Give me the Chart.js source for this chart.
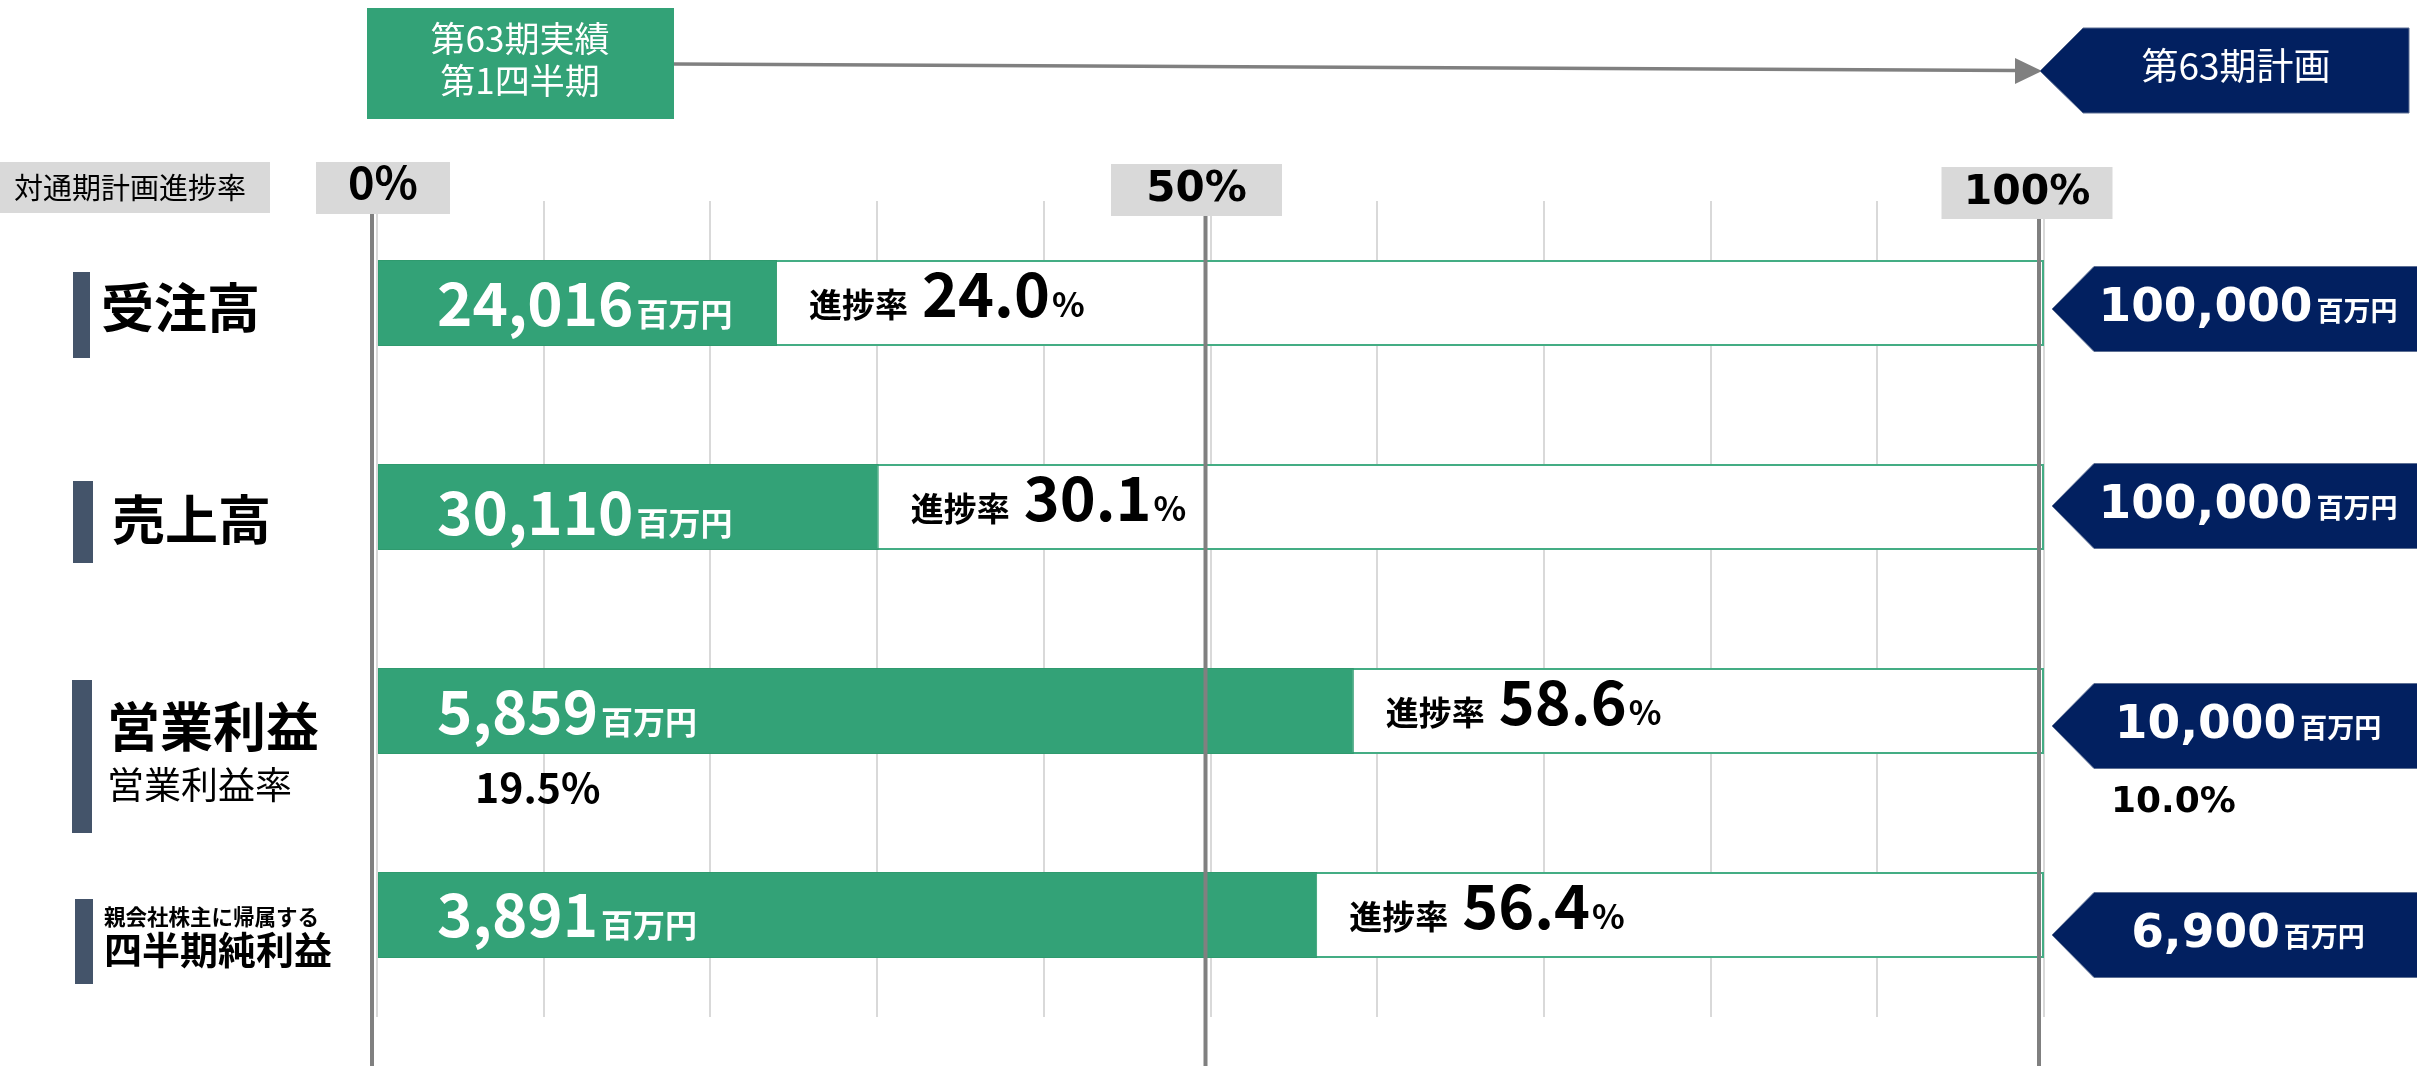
<!DOCTYPE html>
<html><head><meta charset="utf-8">
<script src="https://cdn.jsdelivr.net/npm/chart.js@4.4.0/dist/chart.umd.min.js"></script>
<style>html,body{margin:0;padding:0;background:#fff;overflow:hidden}</style>
</head><body>
<canvas id="c" width="2417" height="1066"></canvas>
<script>
// ---- data ----
const categories = ['受注高', '売上高', '営業利益', '四半期純利益'];
const actualValues = [24016, 30110, 5859, 3891];       // 第63期実績 第1四半期 (百万円)
const planValues = [100000, 100000, 10000, 6900];      // 第63期計画 (百万円)
const progressRates = [24.0, 30.1, 58.6, 56.4];        // 進捗率 (%)
const planRates = [100, 100, 100, 100];                // 通期計画 = 100%
const opMarginActual = 19.5;                           // 営業利益率 実績 (%)
const opMarginPlan = 10.0;                             // 営業利益率 計画 (%)
const tickValues = [0, 50, 100];
const tickLabels = ['0%', '50%', '100%'];
const headerActual = ['第63期実績', '第1四半期'];
const headerPlan = '第63期計画';
const axisTitle = '対通期計画進捗率';
const unitLabel = '百万円';
const progressLabel = '進捗率';

// ---- styles ----
const GREEN = '#33a277', GREEN_EDGE = '#44ad84', NAVY = '#022060', SLATE = '#44546a';
const GRAY = '#808080', LGRAY = '#d9d9d9';
const JP = '"Noto Sans CJK JP", "Noto Sans CJK SC", sans-serif';
const DV = '"DejaVu Sans", Verdana, sans-serif';

function put(ctx, s, x, y, font, color, align, base) {
  ctx.font = font; ctx.fillStyle = color;
  ctx.textAlign = align || 'left'; ctx.textBaseline = base || 'alphabetic';
  ctx.fillText(s, x, y);
  return ctx.measureText(s).width;
}
function w(ctx, s, font) { ctx.font = font; return ctx.measureText(s).width; }
const fmt = v => v.toLocaleString('en-US');

const overlay = {
  id: 'overlay',
  afterDraw(chart) {
    const ctx = chart.ctx, xs = chart.scales.x, ys = chart.scales.y;
    ctx.save();
    const x0 = xs.getPixelForValue(0);
    const x100 = xs.getPixelForValue(100);

    // header: actual box
    ctx.fillStyle = GREEN; ctx.fillRect(367, 8, 307, 111);
    put(ctx, headerActual[0], 520, 39, '400 35px ' + JP, '#fff', 'center', 'middle');
    put(ctx, headerActual[1], 520, 81, '400 35px ' + JP, '#fff', 'center', 'middle');
    // arrow
    ctx.strokeStyle = GRAY; ctx.lineWidth = 3.5;
    ctx.beginPath(); ctx.moveTo(674, 64); ctx.lineTo(2018, 70.5); ctx.stroke();
    ctx.fillStyle = GRAY;
    ctx.beginPath(); ctx.moveTo(2042, 71); ctx.lineTo(2015, 58); ctx.lineTo(2015, 84); ctx.closePath(); ctx.fill();
    // header: plan (navy pentagon)
    ctx.fillStyle = NAVY;
    ctx.beginPath(); ctx.moveTo(2040, 71); ctx.lineTo(2083, 28); ctx.lineTo(2409, 28);
    ctx.lineTo(2409, 113); ctx.lineTo(2083, 113); ctx.closePath(); ctx.fill();
    ctx.strokeStyle = '#5d6f93'; ctx.lineWidth = 1; ctx.stroke();
    put(ctx, headerPlan, 2236, 66, '400 37px ' + JP, '#fff', 'center', 'middle');

    // axis title box
    ctx.fillStyle = LGRAY; ctx.fillRect(0, 162, 270, 51);
    put(ctx, axisTitle, 130, 188, '400 29px ' + JP, '#000', 'center', 'middle');

    // thick reference lines + tick boxes
    const boxDx = [6, -14, -17], boxW = [134, 171, 171], boxTop = [162, 164, 167];
    const boxFont = ['700 45px ' + JP, '700 42px ' + DV, '700 41px ' + DV];
    tickValues.forEach((v, i) => {
      const px = xs.getPixelForValue(v);
      ctx.strokeStyle = GRAY; ctx.lineWidth = 4;
      ctx.beginPath(); ctx.moveTo(px - 5, boxTop[i] + 51); ctx.lineTo(px - 5, 1066); ctx.stroke();
      const cx = px + boxDx[i];
      ctx.fillStyle = LGRAY; ctx.fillRect(cx - boxW[i] / 2, boxTop[i], boxW[i], 52);
      put(ctx, tickLabels[i], cx, boxTop[i] + 37, boxFont[i], '#000', 'center');
    });

    // left category labels
    const accent = [
      {x: 73, w: 17, t: -31, b: 55},
      {x: 73, w: 20, t: -26, b: 56},
      {x: 72, w: 20, t: -31, b: 122},
      {x: 75, w: 18, t: -16, b: 69}
    ];
    categories.forEach((c, i) => {
      const cy = ys.getPixelForValue(i);
      const a = accent[i];
      ctx.fillStyle = SLATE; ctx.fillRect(a.x, cy + a.t, a.w, a.b - a.t);
      if (i === 0) put(ctx, c, 101, cy + 5, '700 53px ' + JP, '#000', 'left', 'middle');
      if (i === 1) put(ctx, c, 112, cy + 13, '700 53px ' + JP, '#000', 'left', 'middle');
      if (i === 2) {
        put(ctx, c, 107, cy + 16, '700 53px ' + JP, '#000', 'left', 'middle');
        put(ctx, '営業利益率', 107, cy + 74, '400 37px ' + JP, '#000', 'left', 'middle');
      }
      if (i === 3) {
        put(ctx, '親会社株主に帰属する', 104, cy + 2, '700 21.5px ' + JP, '#000', 'left', 'middle');
        put(ctx, c, 104, cy + 35, '700 38px ' + JP, '#000', 'left', 'middle');
      }
    });

    // labels inside / beside the bars
    const numShift = [23, 28, 23, 22];
    const navyShift = [6, -1, 15, 20];
    categories.forEach((c, i) => {
      const cy = ys.getPixelForValue(i);
      // actual value in green bar
      const bigF = '700 60px ' + JP, unitF = '700 32px ' + JP;
      let x = x0 + 60;
      x += put(ctx, fmt(actualValues[i]), x, cy + numShift[i], bigF, '#fff');
      put(ctx, unitLabel, x + 3, cy + numShift[i], unitF, '#fff');
      // progress rate right of green bar
      let px = xs.getPixelForValue(progressRates[i]) + 32;
      px += put(ctx, progressLabel, px, cy + 14, '700 33px ' + JP, '#000');
      px += 14;
      px += put(ctx, progressRates[i].toFixed(1), px, cy + 14, '700 61px ' + JP, '#000');
      put(ctx, '%', px + 2, cy + 14, '700 34px ' + JP, '#000');
      // plan value in navy arrow
      const ny = cy + navyShift[i];
      ctx.fillStyle = NAVY;
      ctx.beginPath(); ctx.moveTo(x100 + 8, ny); ctx.lineTo(x100 + 50, ny - 42.5); ctx.lineTo(2420, ny - 42.5);
      ctx.lineTo(2420, ny + 42.5); ctx.lineTo(x100 + 50, ny + 42.5); ctx.closePath(); ctx.fill();
      ctx.strokeStyle = '#5d6f93'; ctx.lineWidth = 1; ctx.stroke();
      const dF = '700 47px ' + DV, uF = '700 27px ' + JP;
      const s = fmt(planValues[i]);
      const tw = w(ctx, s, dF) + 4 + w(ctx, unitLabel, uF);
      let tx = 2248 - tw / 2;
      tx += put(ctx, s, tx, ny + 12, dF, '#fff');
      put(ctx, unitLabel, tx + 4, ny + 12, uF, '#fff');
      if (i === 2) {
        put(ctx, opMarginActual.toFixed(1) + '%', x0 + 98, cy + 92, '700 41px ' + JP, '#000');
        put(ctx, opMarginPlan.toFixed(1) + '%', x100 + 67, cy + 101, '700 36px ' + DV, '#000');
      }
    });
    ctx.restore();
  }
};

new Chart(document.getElementById('c'), {
  type: 'bar',
  data: {
    labels: categories,
    datasets: [
      {label: '進捗率', data: progressRates, backgroundColor: GREEN, borderColor: '#2f9a6e',
       borderWidth: 1, borderSkipped: false, grouped: false, categoryPercentage: 1, barPercentage: 0.4216},
      {label: '通期計画', data: planRates, backgroundColor: '#fff', borderColor: GREEN_EDGE,
       borderWidth: 2, borderSkipped: false, grouped: false, categoryPercentage: 1, barPercentage: 0.4216}
    ]
  },
  options: {
    indexAxis: 'y', responsive: false, animation: false, devicePixelRatio: 1,
    layout: {padding: {left: 377, right: 373, top: 201, bottom: 49}},
    plugins: {legend: {display: false}, tooltip: {enabled: false}},
    scales: {
      x: {min: 0, max: 100, ticks: {display: false, stepSize: 10},
          grid: {color: LGRAY, lineWidth: 2, drawTicks: false}, border: {display: false}},
      y: {display: false}
    }
  },
  plugins: [overlay]
});
</script>
</body></html>
